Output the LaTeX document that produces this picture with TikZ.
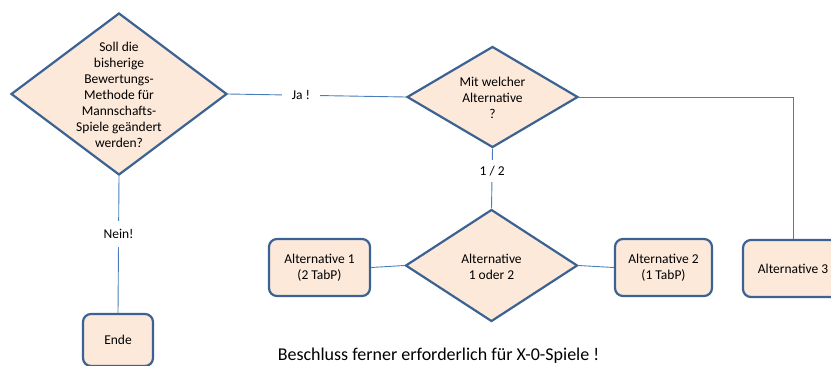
\documentclass[tikz,border=0pt]{standalone}
\usepackage{fontspec}
\setmainfont{Carlito}
\usetikzlibrary{shapes.geometric}
\definecolor{edgeblue}{HTML}{3B6293}
\definecolor{fillpeach}{HTML}{FCE9DA}
\definecolor{linkblue}{HTML}{4A7EBB}
\tikzset{
  decision/.style={shape=diamond, draw=edgeblue, fill=fillpeach, line width=2.2bp, inner sep=0pt},
  stepbox/.style={rectangle, rounded corners=8bp, draw=edgeblue, fill=fillpeach, line width=2.2bp, inner sep=0pt, align=center, font=\fontsize{13.5bp}{16bp}\selectfont},
  txt/.style={align=center, inner sep=0pt, font=\fontsize{13.5bp}{16bp}\selectfont},
  link/.style={draw=linkblue, line width=0.9bp},
  lbl/.style={fill=white, inner sep=0pt, minimum width=38bp, minimum height=26bp, font=\fontsize{13.5bp}{16bp}\selectfont}
}
\begin{document}
\begin{tikzpicture}[x=1bp,y=-1bp]
\useasboundingbox (0,0) rectangle (831,365);
% nodes
\node[decision, minimum width=216bp, minimum height=162bp] (q1) at (119,94) {};
\node[txt] (q1t) at (119,95) {Soll die\\bisherige\\Bewertungs-\\Methode für\\Mannschafts-\\Spiele geändert\\werden?};
\node[decision, minimum width=171bp, minimum height=101bp] (q2) at (492.5,97) {};
\node[txt] (q2t) at (492.5,98) {Mit welcher\\Alternative\\?};
\node[decision, minimum width=172bp, minimum height=112bp] (q3) at (491.5,265.5) {};
\node[txt] (q3t) at (491.5,267) {Alternative\\1 oder 2};
\node[stepbox, minimum width=101bp, minimum height=57bp] (a1) at (319.5,267.5) {Alternative 1\\(2 TabP)};
\node[stepbox, minimum width=97bp, minimum height=57bp] (a2) at (663.5,267.5) {Alternative 2\\(1 TabP)};
\node[stepbox, minimum width=100bp, minimum height=57bp] (a3) at (793,268.5) {Alternative 3};
\node[stepbox, minimum width=70bp, minimum height=52bp] (ende) at (118,340) {Ende};
\node[inner sep=0pt, anchor=base, font=\fontsize{18bp}{22bp}\selectfont] (note) at (438.5,360) {Beschluss ferner erforderlich für X-0-Spiele !};
% connectors
\draw[link] (q1.east) -- node[lbl, pos=0.41] (ja) {Ja !} (q2.west);
\draw[link] (q1.south) -- node[lbl, pos=0.42] (nein) {Nein!} (ende.north);
\draw[link] (q2.south) -- node[lbl, pos=0.37, minimum height=22bp] (onetwo) {1 / 2} (q3.north);
\draw[link] (q2.east) -| (a3.north);
\draw[link] (a1.east) -- (q3.west);
\draw[link] (q3.east) -- (a2.west);
\end{tikzpicture}
\end{document}
